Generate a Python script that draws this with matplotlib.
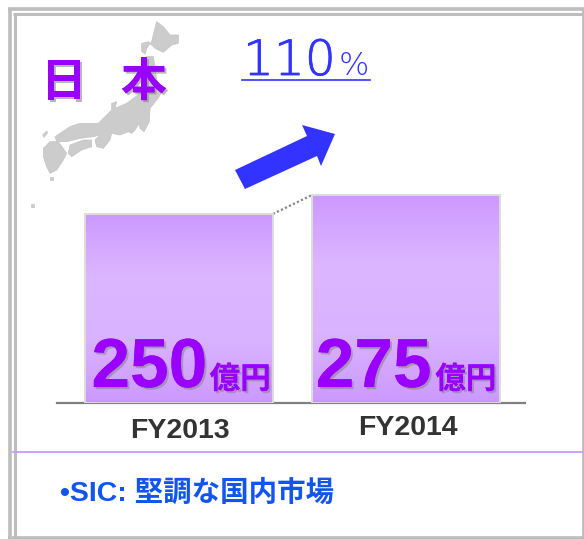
import matplotlib
matplotlib.use("Agg")
import matplotlib.pyplot as plt
import matplotlib.patheffects as pe
import numpy as np
from matplotlib.colors import LinearSegmentedColormap
from matplotlib.patches import Polygon

# chart values
years = ["FY2013", "FY2014"]
sales = [250, 275]
unit = "億円"
growth = "110"
note = "•SIC: 堅調な国内市場"
title = ["日", "本"]

JP = ["Noto Sans CJK JP", "DejaVu Sans"]
PURPLE = "#9900FF"
BLUE = "#3333FF"
FRAME = "#BDBDBD"

W, H = 584, 539
fig = plt.figure(figsize=(W / 100, H / 100), dpi=100, facecolor="white")

# pixel canvas for the slide decoration
bg = fig.add_axes([0, 0, 1, 1])
bg.set_xlim(0, W)
bg.set_ylim(H, 0)
bg.axis("off")

# double grey frame, open band on the bottom and right
bg.plot([9.5, 9.5], [8, 538], color=FRAME, lw=2.6, solid_capstyle="butt")
bg.plot([14.5, 14.5], [13, 538], color=FRAME, lw=2.2, solid_capstyle="butt")
bg.plot([8, W], [9, 9], color=FRAME, lw=2.6, solid_capstyle="butt")
bg.plot([13, W], [14, 14], color=FRAME, lw=2.2, solid_capstyle="butt")
bg.plot([8, W], [537.5, 537.5], color=FRAME, lw=2.6, solid_capstyle="butt")
bg.plot([583, 583], [8, 538], color=FRAME, lw=2, solid_capstyle="butt")
bg.plot([13, W], [452, 452], color="#CC99FF", lw=1.3)

# Japan map (zoom px / 3)
islands = [
    [(470, 65), (490, 80), (510, 105), (535, 105), (535, 130), (515, 135), (490, 157), (465, 145),
     (445, 125), (425, 130), (425, 155), (436, 162), (440, 145), (455, 125), (462, 95)],
    [(440, 170), (460, 170), (465, 200), (470, 240), (490, 270), (470, 300), (450, 325), (448, 365),
     (432, 395), (420, 385), (418, 370), (405, 390), (395, 400), (385, 395), (360, 405), (335, 400),
     (330, 420), (310, 445), (290, 440), (285, 420), (300, 405), (280, 410), (240, 415), (200, 425),
     (170, 425), (165, 410), (210, 380), (240, 370), (295, 370), (315, 350), (335, 330), (335, 310),
     (350, 305), (345, 325), (380, 310), (420, 280), (430, 240), (430, 200)],
    [(210, 435), (250, 420), (275, 420), (275, 440), (245, 450), (215, 470), (205, 460)],
    [(130, 445), (150, 425), (175, 425), (200, 460), (190, 480), (170, 510), (150, 520), (140, 500),
     (130, 470)],
    [(128, 405), (140, 393), (143, 398), (132, 412)],
    [(150, 532), (160, 532), (160, 539), (150, 539)],
    [(93, 612), (101, 612), (101, 620), (93, 620)],
]
for pts in islands:
    bg.add_patch(Polygon(np.array(pts) / 3, closed=True, fc="#CCCCCC", ec="#C4C4C4", lw=0.5, joinstyle="round"))

shadow = [pe.withSimplePatchShadow(offset=(1.5, -1.5), shadow_rgbFace="#888888", alpha=0.6), pe.Normal()]

for ch, cx in zip(title, [64, 144]):
    bg.text(cx, 83, ch, family=JP, weight="bold", fontsize=33, color=PURPLE,
            ha="center", va="center", path_effects=shadow)

# growth rate
thicker = [pe.withStroke(linewidth=0.6, foreground=BLUE)]
bg.text(243, 75, growth, family="DejaVu Sans", fontsize=35, color=BLUE, ha="left", va="baseline",
        weight="light", path_effects=thicker)
bg.text(339, 75, "%", family="DejaVu Sans", fontsize=23, color=BLUE, ha="left", va="baseline", weight="light")
bg.plot([242, 370], [79.5, 79.5], color=BLUE, lw=1.2)

# up arrow
bg.add_patch(Polygon([(235, 170), (245, 189), (317, 156), (321, 166), (335, 134), (302, 125), (307, 136)],
                     closed=True, fc=BLUE, ec="none"))

# bars, in their own axes so heights come from the values
ax = fig.add_axes([57 / W, 1 - 403 / H, (525 - 57) / W, (403 - 15) / H])
ax.patch.set_alpha(0)
for s in ["top", "left", "right"]:
    ax.spines[s].set_visible(False)
ax.spines["bottom"].set_color("#808080")
ax.spines["bottom"].set_linewidth(1.6)
ax.set_yticks([])
ax.set_xticks([])

cmap = LinearSegmentedColormap.from_list("bar", ["#CC99FF", "#DCB6FF", "#D9B3FF", "#CC99FF"])
x = np.arange(len(years))
bars = ax.bar(x, sales, width=0.828, color="none", edgecolor="#DDDDDD", linewidth=1.4, zorder=3)
for b in bars:
    x0, w, h = b.get_x(), b.get_width(), b.get_height()
    ax.imshow(np.linspace(0, 1, 256)[:, None], extent=(x0, x0 + w, 0, h), origin="upper",
              cmap=cmap, aspect="auto", zorder=2)
ax.set_xlim(-0.537, 1.524)
ax.set_ylim(0, 513)

# dotted connector between the bar tops
ax.plot([bars[0].get_x() + bars[0].get_width(), bars[1].get_x()], sales, color="#888888", lw=1.6,
        ls=(0, (1, 1)), zorder=1)

# offsets in points from the bottom centre of each bar
num_dx = [-63, -65]
unit_dx = [66, 65]
year_dx = [0.7, 1.4]
year_dy = [-25, -23]
for i, (yr, v) in enumerate(zip(years, sales)):
    ax.annotate(str(v), (i, 0), xytext=(num_dx[i], 11.5), textcoords="offset points", family="Liberation Sans",
                weight="bold", fontsize=50, color=PURPLE, ha="left", va="baseline", path_effects=shadow, zorder=5)
    ax.annotate(unit, (i, 0), xytext=(unit_dx[i], 10.5), textcoords="offset points", family=JP, weight="bold",
                fontsize=22, color=PURPLE, ha="right", va="baseline", path_effects=shadow, zorder=5)
    ax.annotate(yr, (i, 0), xytext=(year_dx[i], year_dy[i]), textcoords="offset points",
                family="Liberation Sans", weight="bold", fontsize=20.5, color="#333333", ha="center", va="baseline",
                annotation_clip=False)

bg.text(60, 501, note, family=["Liberation Sans"] + JP, weight="bold", fontsize=20.5, color="#1155EE",
        ha="left", va="baseline")

fig.savefig("out.png", dpi=100)
